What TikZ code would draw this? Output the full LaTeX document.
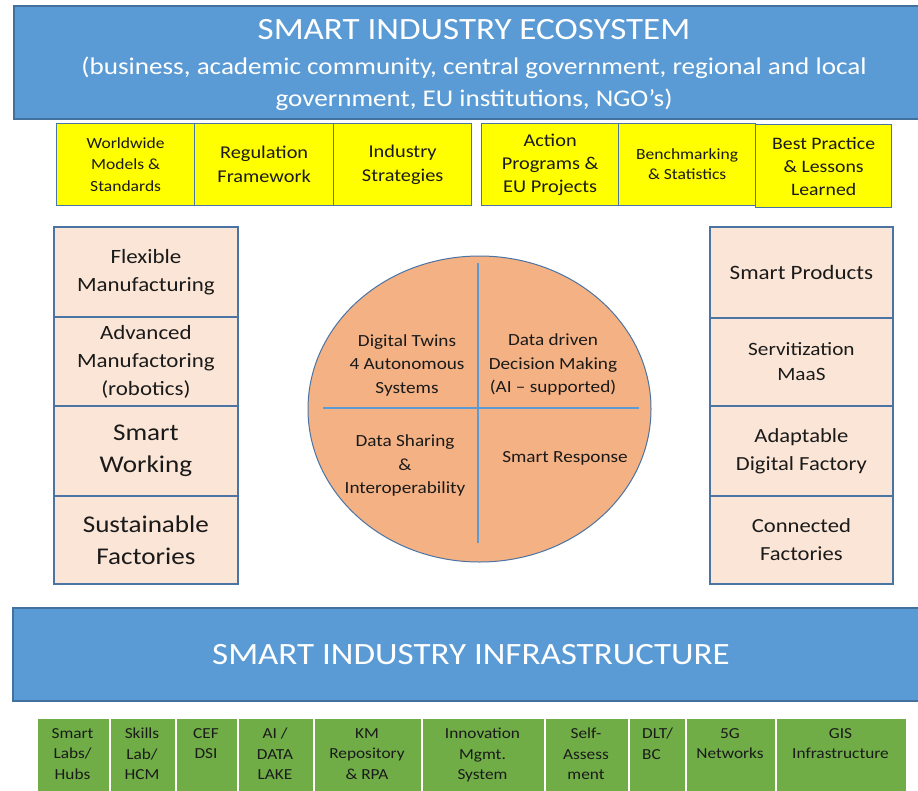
\documentclass[tikz,border=0pt]{standalone}
\usepackage{fontspec}
\setmainfont{Carlito}[FakeStretch=1.13]
\usetikzlibrary{shapes.geometric}
\definecolor{bannerblue}{HTML}{5B9BD5}
\definecolor{bannerborder}{HTML}{41719C}
\definecolor{boxborder}{HTML}{4A74A4}
\definecolor{ybox}{HTML}{FFFF00}
\definecolor{peach}{HTML}{FBE5D6}
\definecolor{circfill}{HTML}{F4B183}
\definecolor{qline}{HTML}{5B9BD5}
\definecolor{ggreen}{HTML}{70AD47}
\definecolor{txt}{HTML}{1A1A1A}
\newcommand{\myfs}[2]{\fontsize{#1}{#2}\selectfont}
\begin{document}
\begin{tikzpicture}[x=1pt,y=-1pt,
  banner/.style={draw=bannerborder, line width=1.6pt, fill=bannerblue, anchor=north west, inner sep=0pt},
  btext/.style={text=white, align=center, inner sep=0pt},
  yellowbox/.style={draw=boxborder, line width=1.3pt, fill=ybox, anchor=north west, inner sep=0pt, align=center, text=txt},
  peachbox/.style={draw=boxborder, line width=1.8pt, fill=peach, anchor=north west, inner sep=0pt, align=center, text=txt},
  greenbox/.style={draw=white, line width=1.5pt, fill=ggreen, anchor=north west, inner sep=0pt},
  gtext/.style={anchor=north, align=center, inner sep=0pt, text=txt, font=\myfs{15.3}{20.5}},
  qtext/.style={align=center, inner sep=0pt, text=txt, font=\myfs{17}{23.5}},
  divider/.style={draw=qline, line width=1.8pt}]
\useasboundingbox (0,0) rectangle (918,790);
\clip (0,0) rectangle (918,790);
\fill[white] (0,0) rectangle (918,790);

% top banner
\node[banner, minimum width=912pt, minimum height=113pt] (topb) at (13,5) {};
\node[btext, font=\myfs{31}{34}] (title1) at (474,30) {SMART INDUSTRY ECOSYSTEM};
\node[btext, font=\myfs{24}{32}] (title2) at (474,84) {(business, academic community, central government, regional and local\\government, EU institutions, NGO’s)};

% yellow boxes
\node[yellowbox, minimum width=138pt, minimum height=82pt, font=\myfs{15.5}{21.5}] (y1) at (56,123) {Worldwide\\Models \&\\Standards};
\node[yellowbox, minimum width=139pt, minimum height=82pt, font=\myfs{18}{24}] (y2) at (194,123) {Regulation\\Framework};
\node[yellowbox, minimum width=138pt, minimum height=82pt, font=\myfs{18}{24}] (y3) at (333,123) {Industry\\Strategies};
\node[yellowbox, minimum width=137pt, minimum height=82pt, font=\myfs{18}{23}] (y4) at (481,123) {Action\\Programs \&\\EU Projects};
\node[yellowbox, minimum width=137pt, minimum height=82pt, font=\myfs{15.5}{20}] (y5) at (618,123) {Benchmarking\\\& Statistics};
\node[yellowbox, minimum width=136pt, minimum height=83pt, font=\myfs{17.5}{23}] (y6) at (755,124) {Best Practice\\\& Lessons\\Learned};

% left column
\node[peachbox, minimum width=184pt, minimum height=90pt, font=\myfs{20.3}{28}] (l1) at (53,226) {Flexible\\Manufacturing};
\node[peachbox, minimum width=184pt, minimum height=89pt, font=\myfs{20.3}{28}] (l2) at (53,316) {Advanced\\Manufactoring\\(robotics)};
\node[peachbox, minimum width=184pt, minimum height=90pt, font=\myfs{24}{32}] (l3) at (53,405) {Smart\\Working};
\node[peachbox, minimum width=184pt, minimum height=88pt, font=\myfs{24}{32}] (l4) at (53,495) {Sustainable\\Factories};

% right column
\node[peachbox, minimum width=183pt, minimum height=91pt, font=\myfs{20.4}{28}] (r1) at (709,226) {Smart Products};
\node[peachbox, minimum width=183pt, minimum height=88pt, font=\myfs{18.8}{25}] (r2) at (709,317) {Servitization\\MaaS};
\node[peachbox, minimum width=183pt, minimum height=90pt, font=\myfs{20}{28}] (r3) at (709,405) {Adaptable\\Digital Factory};
\node[peachbox, minimum width=183pt, minimum height=88pt, font=\myfs{20}{28}] (r4) at (709,495) {Connected\\Factories};

% circle
\node[ellipse, draw=boxborder, line width=1pt, fill=circfill, minimum width=343pt, minimum height=306pt, inner sep=0pt] (circ) at (479.5,409) {};
\coordinate (vtop) at (478,263);
\coordinate (vbot) at (478,543);
\coordinate (hleft) at (323,408);
\coordinate (hright) at (639,408);
\draw[divider] (vtop) -- (vbot);
\draw[divider] (hleft) -- (hright);
\node[qtext] (q1) at (407,365) {Digital Twins\\4 Autonomous\\Systems};
\node[qtext] (q2) at (553,364.5) {Data driven\\Decision Making\\(AI – supported)};
\node[qtext] (q3) at (405,465.5) {Data Sharing\\\&\\Interoperability};
\node[qtext] (q4) at (565,458) {Smart Response};

% bottom banner
\node[banner, minimum width=913pt, minimum height=93pt] (botb) at (12,607) {};
\node[btext, font=\myfs{31}{34}] (title3) at (471,655) {SMART INDUSTRY INFRASTRUCTURE};

% green boxes
\node[greenbox, minimum width=73pt, minimum height=80pt] (g1) at (36,717) {};
\node[greenbox, minimum width=66pt, minimum height=80pt] (g2) at (109,717) {};
\node[greenbox, minimum width=62pt, minimum height=80pt] (g3) at (175,717) {};
\node[greenbox, minimum width=76pt, minimum height=80pt] (g4) at (237,717) {};
\node[greenbox, minimum width=108pt, minimum height=80pt] (g5) at (313,717) {};
\node[greenbox, minimum width=123pt, minimum height=80pt] (g6) at (421,717) {};
\node[greenbox, minimum width=84pt, minimum height=80pt] (g7) at (544,717) {};
\node[greenbox, minimum width=57pt, minimum height=80pt] (g8) at (628,717) {};
\node[greenbox, minimum width=90pt, minimum height=80pt] (g9) at (685,717) {};
\node[greenbox, minimum width=131pt, minimum height=80pt] (g10) at (775,717) {};

\node[gtext] (g1t) at (72.5,728) {Smart\\Labs/\\Hubs};
\node[gtext] (g2t) at (142,728) {Skills\\Lab/\\HCM};
\node[gtext] (g3t) at (206,728) {CEF\\DSI};
\node[gtext] (g4t) at (275,728) {AI /\\DATA\\LAKE};
\node[gtext] (g5t) at (367,728) {KM\\Repository\\\& RPA};
\node[gtext] (g6t) at (482.5,728) {Innovation\\Mgmt.\\System};
\node[gtext] (g7t) at (586,728) {Self-\\Assess\\ment};
\node[gtext, anchor=north west, align=left] (g8t) at (642,728) {DLT/\\BC};
\node[gtext] (g9t) at (730,728) {5G\\Networks};
\node[gtext] (g10t) at (840.5,728) {GIS\\Infrastructure};
\end{tikzpicture}
\end{document}
